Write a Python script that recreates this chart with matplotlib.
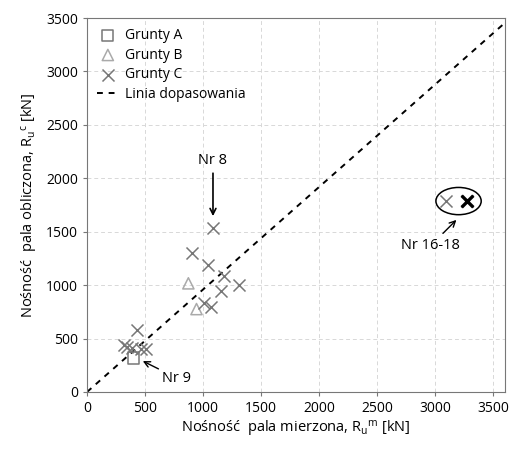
import matplotlib.pyplot as plt
from matplotlib.patches import Ellipse

plt.rcParams['font.family'] = ['Open Sans', 'DejaVu Sans']
plt.rcParams['mathtext.fontset'] = 'custom'
plt.rcParams['mathtext.rm'] = 'Open Sans'
plt.rcParams['mathtext.it'] = 'Open Sans'

# measured vs calculated pile capacity [kN]
a_meas = [402]
a_calc = [318]

b_meas = [873, 943]
b_calc = [1017, 776]

c_meas = [1085, 907, 1042, 1178, 1311, 1155, 1005, 1070, 432, 347, 390, 506, 322, 464, 3091, 3270, 3270]
c_calc = [1531, 1305, 1188, 1085, 1001, 945, 830, 798, 580, 421, 412, 400, 440, 400, 1787, 1787, 1787]

fit_x = [0, 3700]
fit_slope = 0.96

fig = plt.figure(figsize=(5.1, 4.5), dpi=100)
ax = fig.add_axes([0.1706, 0.1289, 0.8196, 0.831])

gray = "#777777"
ax.scatter(a_meas, a_calc, marker="s", s=65, facecolors="none", edgecolors=gray,
           linewidths=1.1, label="Grunty A", zorder=3)
ax.scatter(b_meas, b_calc, marker="^", s=65, facecolors="none", edgecolors="#aaaaaa",
           linewidths=1.1, label="Grunty B", zorder=3)
ax.scatter(c_meas, c_calc, marker="x", s=75, color=gray, linewidths=1.1,
           label="Grunty C", zorder=3)
ax.plot(fit_x, [v * fit_slope for v in fit_x], "k--", lw=1.4, dashes=(3, 3),
        label="Linia dopasowania", zorder=2)

ax.set_xlim(0, 3600)
ax.set_ylim(0, 3500)
ax.set_xticks(range(0, 3501, 500))
ax.set_yticks(range(0, 3501, 500))
ax.grid(True, color="#d8d8d8", linestyle=(0, (4, 3)), lw=0.7)
for s in ax.spines.values():
    s.set_color(gray)
ax.tick_params(colors="black", labelsize=10, length=3)
ax.tick_params(axis="both", color=gray)

ax.set_xlabel(r"Nośność  pala mierzona, R$_\mathrm{u}$$^\mathrm{m}$ [kN]", fontsize=10.5, labelpad=2)
ax.set_ylabel(r"Nośność  pala obliczona, R$_\mathrm{u}$$^\mathrm{c}$ [kN]", fontsize=10.5, labelpad=4)

# annotations
ax.annotate("Nr 8", xy=(1085, 1620), xytext=(1085, 2100), ha="center", va="bottom",
            fontsize=10.5, arrowprops=dict(arrowstyle="->", color="black", lw=1.2))
ax.annotate("Nr 9", xy=(470, 295), xytext=(650, 130), ha="left", va="center",
            fontsize=10.5, arrowprops=dict(arrowstyle="->", color="black", lw=1.0,
                                           shrinkA=1, shrinkB=1))
ax.annotate("Nr 16-18", xy=(3190, 1620), xytext=(2960, 1370), ha="center", va="center",
            fontsize=10.5, arrowprops=dict(arrowstyle="->", color="black", lw=1.0,
                                           shrinkA=2, shrinkB=1))
ax.add_patch(Ellipse((3200, 1787), 390, 255, fill=False, edgecolor="black", lw=1.1, zorder=4))
ax.scatter([3270], [1787], marker="x", s=70, color="black", linewidths=2.4, zorder=5)

ax.legend(loc="upper left", frameon=False, fontsize=10, handlelength=1.6,
          handletextpad=0.4, labelspacing=0.35, borderaxespad=0.3)

fig.savefig("out.png", dpi=100)
